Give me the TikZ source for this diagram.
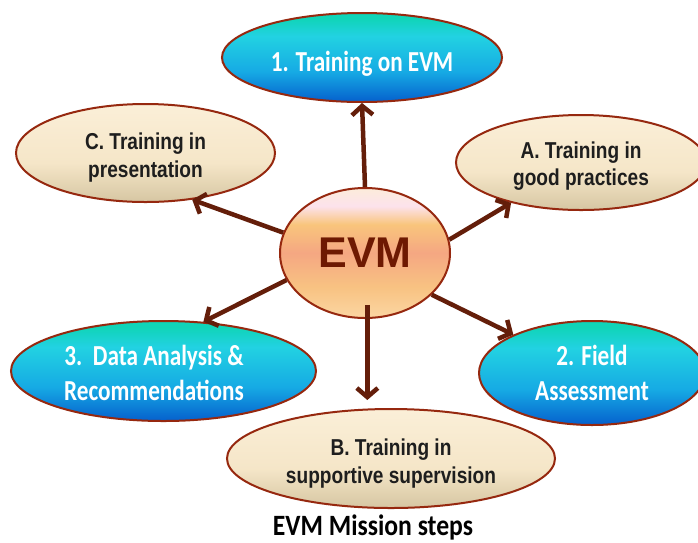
\documentclass[tikz,border=0pt]{standalone}
\usepackage{fontspec}
\usetikzlibrary{arrows.meta,shapes.geometric,calc}
\newfontfamily\blufont[FakeStretch=0.80]{Carlito}
\newfontfamily\capfont[FakeStretch=0.87]{Carlito}
\newfontfamily\tanfont[FakeStretch=0.83]{Liberation Sans}
\newfontfamily\evmfont{Liberation Sans}
\definecolor{bT}{RGB}{16,212,184}
\definecolor{bC}{RGB}{34,210,226}
\definecolor{bM}{RGB}{22,170,228}
\definecolor{bB}{RGB}{5,96,205}
\definecolor{tT}{RGB}{251,239,216}
\definecolor{tM}{RGB}{245,230,200}
\definecolor{tB}{RGB}{214,198,162}
\definecolor{eA}{RGB}{252,236,218}
\definecolor{eP}{RGB}{252,226,236}
\definecolor{eO}{RGB}{249,197,124}
\definecolor{eS}{RGB}{245,167,130}
\definecolor{eL}{RGB}{248,194,130}
\definecolor{eB}{RGB}{251,214,162}
\definecolor{edgecol}{RGB}{150,40,15}
\definecolor{arrcol}{RGB}{100,30,10}
\definecolor{evmtext}{RGB}{110,25,2}
\definecolor{tantext}{RGB}{30,30,30}
\pgfdeclareverticalshading{blueshade}{100bp}{color(0bp)=(bB); color(25bp)=(bB); color(42bp)=(bM); color(62bp)=(bC); color(72bp)=(bT); color(100bp)=(bT)}
\pgfdeclareverticalshading{tanshade}{100bp}{color(0bp)=(tB); color(25bp)=(tB); color(45bp)=(tM); color(75bp)=(tT); color(100bp)=(tT)}
\pgfdeclareverticalshading{evmshade}{100bp}{color(0bp)=(eB); color(25bp)=(eB); color(37bp)=(eL); color(50bp)=(eS); color(61bp)=(eO); color(68bp)=(eP); color(75bp)=(eA); color(100bp)=(eA)}
\tikzset{
  ell/.style={ellipse, draw=edgecol, line width=2pt, inner sep=0pt},
  blueell/.style={ell, shading=blueshade},
  tanell/.style={ell, shading=tanshade},
  bluetxt/.style={align=center, inner sep=0pt, text=white, font=\blufont\bfseries\fontsize{29}{35}\selectfont},
  tantxt/.style={align=center, inner sep=0pt, text=tantext, font=\tanfont\bfseries\fontsize{23}{27.5}\selectfont},
  arr/.style={draw=arrcol, line width=4.5pt, -{Straight Barb[length=9pt,width=21pt]}}
}
\begin{document}
\begin{tikzpicture}[x=1pt,y=-1pt]
\useasboundingbox (0,0) rectangle (698,542);
\fill[white] (0,0) rectangle (698,542);
% ellipses
\node[blueell, minimum width=280pt, minimum height=89pt] (t1) at (362,57.5) {};
\node[tanell, minimum width=259pt, minimum height=98pt] (tc) at (145.5,153) {};
\node[tanell, minimum width=250pt, minimum height=95pt] (ta) at (581,162.5) {};
\node[blueell, minimum width=305pt, minimum height=100pt] (t3) at (163.5,371) {};
\node[blueell, minimum width=226pt, minimum height=104pt] (t2) at (592,373) {};
\node[tanell, minimum width=328pt, minimum height=99pt] (tb) at (391,458.5) {};
\node[ell, shading=evmshade, minimum width=170pt, minimum height=130pt, text=evmtext, font=\evmfont\bfseries\fontsize{43}{50}\selectfont] (evm) at (365,253) {EVM};
% texts
\node[bluetxt] (t1x) at ([yshift=-6pt]t1.center) {1. Training on EVM};
\node[tantxt] (tcx) at ([yshift=-4.5pt]tc.center) {C. Training in\\presentation};
\node[tantxt] (tax) at ([yshift=-3.5pt]ta.center) {A. Training in\\good practices};
\node[bluetxt] (t3x) at ([xshift=-9.5pt,yshift=-2pt]t3.center) {3.\ \ Data Analysis \&\\Recommendations};
\node[bluetxt] (t2x) at (t2.center) {2. Field\\Assessment};
\node[tantxt] (tbx) at ([yshift=-5pt]tb.center) {B. Training in\\supportive supervision};
% connectors
\draw[arr] (evm.north) -- (t1.south);
\draw[arr] (evm.166) -- (tc.-45);
\draw[arr] (evm.9) -- (ta.210);
\draw[arr] (evm.199) -- (t3.51);
\draw[arr] (evm.-32) -- (t2.154);
\draw[arr, shorten <=-14pt, shorten >=8pt] (evm.272) -- (evm.272 |- tb.north);
\node[font=\capfont\bfseries\fontsize{29.5}{35}\selectfont, anchor=base, inner sep=0pt] (cap) at (373,535) {EVM Mission steps};
\end{tikzpicture}
\end{document}
